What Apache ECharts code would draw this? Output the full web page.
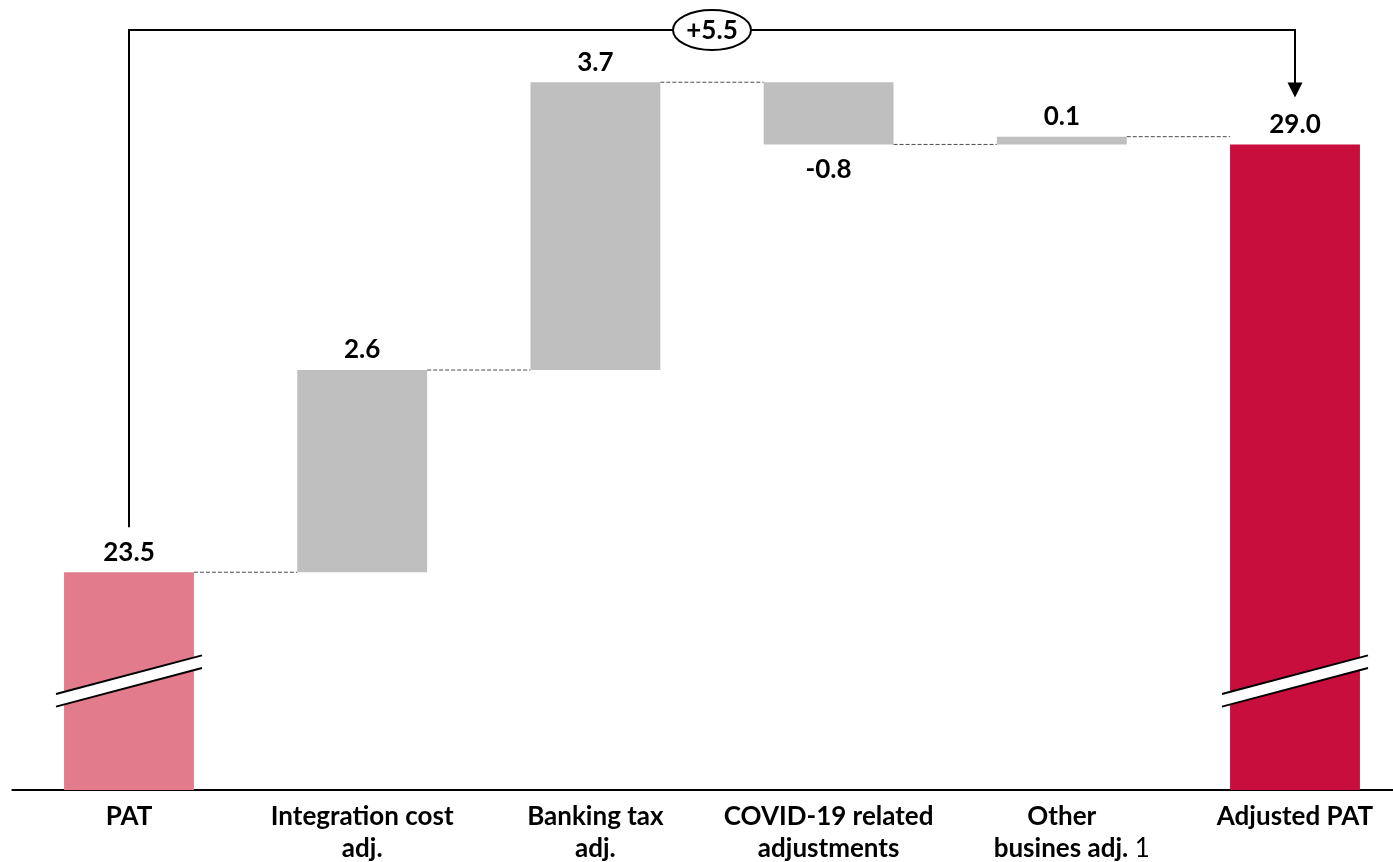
<!DOCTYPE html>
<html>
<head>
<meta charset="utf-8">
<script src="https://cdn.jsdelivr.net/npm/echarts@6/dist/echarts.min.js"></script>
<style>
  html, body { margin: 0; padding: 0; background: #ffffff; }
  #chart { width: 1393px; height: 862px; }
</style>
</head>
<body>
<div id="chart"></div>
<script>
// PAT to Adjusted PAT bridge (waterfall with broken value axis)
const categories = ['PAT', 'Integration cost\nadj.', 'Banking tax\nadj.', 'COVID-19 related\nadjustments', 'Other\nbusines adj.', 'Adjusted PAT'];
const startValue = 23.5;              // PAT
const adjustments = [2.6, 3.7, -0.8, 0.1];
const endValue = 29.0;                // Adjusted PAT
const bridgeText = '+5.5';
const footnoteIndex = 4;              // category carrying footnote "1"
const footnoteMark = '1';

// visible window of the broken value axis
const axisMin = 20.7;
const axisMax = 30.6;

const colors = { start: '#E27C8D', end: '#C80E3C', step: '#BFBFBF' };
const FONT = 'Lato, "Open Sans", sans-serif';
const FS = 26;
const BAR_RATIO = 0.557;

// build floating bars: [index, low, high, kind, label, labelBelow]
const bars = [];
const levels = [];        // running total after each bar (connector heights)
bars.push([0, axisMin, startValue, 'start', startValue.toFixed(1), 0]);
let running = startValue;
levels.push(running);
adjustments.forEach((d, k) => {
  const next = running + d;
  bars.push([k + 1, Math.min(running, next), Math.max(running, next), 'step', d.toFixed(1), d < 0 ? 1 : 0]);
  running = next;
  levels.push(running);
});
bars.push([categories.length - 1, axisMin, endValue, 'end', endValue.toFixed(1), 0]);

const connectors = levels.map((lv, i) => [i, lv]);

const chart = echarts.init(document.getElementById('chart'), null, { renderer: 'canvas' });

function barHalf(api) { return api.size([1, 0])[0] * BAR_RATIO / 2; }

const option = {
  backgroundColor: '#ffffff',
  animation: false,
  grid: { left: 12.4, width: 1399.2, top: 20, bottom: 72, containLabel: false, outerBoundsMode: 'none' },
  xAxis: {
    type: 'category',
    data: categories,
    axisLine: { show: true, lineStyle: { color: '#000000', width: 2 } },
    axisTick: { show: false },
    axisLabel: {
      interval: 0,
      margin: 11,
      color: '#000000',
      fontFamily: FONT,
      fontWeight: 'bold',
      fontSize: FS,
      lineHeight: 32,
      formatter: function (v, idx) {
        if (idx === footnoteIndex) {
          const lines = v.split('\n');
          return lines[0] + '\n{sp|}' + lines[1] + '{fn| ' + footnoteMark + '}';
        }
        return v;
      },
      rich: {
        sp: { width: 20, fontSize: FS, lineHeight: 32 },
        fn: { fontFamily: FONT, fontWeight: 'normal', fontSize: FS, lineHeight: 32, color: '#000000' }
      }
    }
  },
  yAxis: {
    type: 'value',
    min: axisMin,
    max: axisMax,
    show: false,
    splitLine: { show: false }
  },
  series: [
    {
      // dashed connectors between consecutive bars
      type: 'custom',
      z: 1,
      data: connectors,
      renderItem: function (params, api) {
        const i = api.value(0);
        const lv = api.value(1);
        const half = barHalf(api);
        const p1 = api.coord([i, lv]);
        const p2 = api.coord([i + 1, lv]);
        return {
          type: 'line',
          shape: { x1: p1[0] + half, y1: p1[1], x2: p2[0] - half, y2: p2[1] },
          style: { stroke: '#4d4d4d', lineWidth: 1, lineDash: [4, 2] }
        };
      }
    },
    {
      // floating bars with value labels
      type: 'custom',
      z: 2,
      data: bars,
      renderItem: function (params, api) {
        const d = bars[params.dataIndex];
        const i = d[0], lo = d[1], hi = d[2], kind = d[3], txt = d[4], below = d[5];
        const half = barHalf(api);
        const pTop = api.coord([i, hi]);
        const pBot = api.coord([i, lo]);
        const font = 'bold ' + FS + 'px ' + FONT;
        const label = below
          ? { type: 'text', style: { text: txt, x: pTop[0], y: pBot[1] + 12, align: 'center', verticalAlign: 'top', fill: '#000000', font: font } }
          : { type: 'text', style: { text: txt, x: pTop[0], y: pTop[1] - 7, align: 'center', verticalAlign: 'bottom', fill: '#000000', font: font } };
        return {
          type: 'group',
          children: [
            { type: 'rect', shape: { x: pTop[0] - half, y: pTop[1], width: half * 2, height: pBot[1] - pTop[1] }, style: { fill: colors[kind] } },
            label
          ]
        };
      }
    },
    {
      // axis-break marks on the two total bars
      type: 'custom',
      z: 3,
      data: [[0], [categories.length - 1]],
      renderItem: function (params, api) {
        const i = api.value(0);
        const base = api.coord([i, axisMin]);
        const cx = base[0];
        const my = base[1] - 109;
        const dx = 73, dy = 19.3, gap = 6.3;
        return {
          type: 'group',
          children: [
            { type: 'polygon', shape: { points: [[cx - dx, my + dy - gap], [cx + dx, my - dy - gap], [cx + dx, my - dy + gap], [cx - dx, my + dy + gap]] }, style: { fill: '#ffffff' } },
            { type: 'line', shape: { x1: cx - dx, y1: my + dy - gap, x2: cx + dx, y2: my - dy - gap }, style: { stroke: '#000000', lineWidth: 2 } },
            { type: 'line', shape: { x1: cx - dx, y1: my + dy + gap, x2: cx + dx, y2: my - dy + gap }, style: { stroke: '#000000', lineWidth: 2 } }
          ]
        };
      }
    },
    {
      // bracket from PAT to Adjusted PAT with total change
      type: 'custom',
      z: 4,
      data: [[0, categories.length - 1]],
      renderItem: function (params, api) {
        const a = api.coord([api.value(0), startValue]);
        const b = api.coord([api.value(1), endValue]);
        const topY = params.coordSys.y + 10;
        const startY = a[1] - 45;
        const tipY = b[1] - 47;
        const headLen = 15, headHalf = 7.5;
        const midX = (a[0] + b[0]) / 2;
        return {
          type: 'group',
          children: [
            { type: 'polyline', shape: { points: [[a[0], startY], [a[0], topY], [b[0], topY], [b[0], tipY - headLen + 1]] }, style: { stroke: '#000000', lineWidth: 2, fill: null } },
            { type: 'polygon', shape: { points: [[b[0] - headHalf, tipY - headLen], [b[0] + headHalf, tipY - headLen], [b[0], tipY]] }, style: { fill: '#000000' } },
            { type: 'ellipse', shape: { cx: midX, cy: topY, rx: 39, ry: 20 }, style: { fill: '#ffffff', stroke: '#000000', lineWidth: 2 } },
            { type: 'text', style: { text: bridgeText, x: midX, y: topY + 1, align: 'center', verticalAlign: 'middle', fill: '#000000', font: 'bold ' + FS + 'px ' + FONT } }
          ]
        };
      }
    }
  ]
};

chart.setOption(option);
</script>
</body>
</html>
